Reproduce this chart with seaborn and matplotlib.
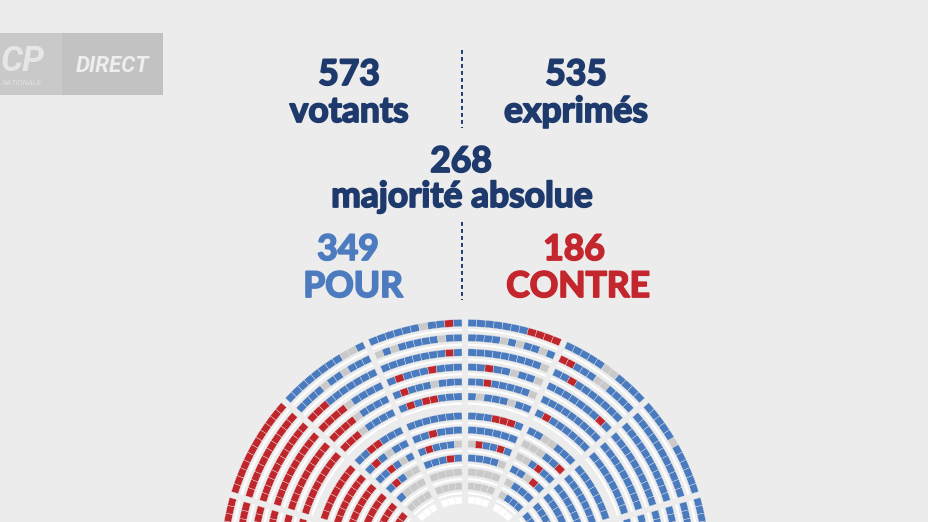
import matplotlib
matplotlib.use("Agg")
import numpy as np
import matplotlib.pyplot as plt
import matplotlib.patheffects as pe
from matplotlib.patches import Wedge, Rectangle
import seaborn as sns

# ---------------- data ----------------
votants = 573
exprimes = 535
majorite = 268
pour = 349
contre = 186
label_votants = "votants"
label_exprimes = "exprimés"
label_majorite = "majorité absolue"
label_pour = "POUR"
label_contre = "CONTRE"

# seat rows (radius in px from hemicycle centre), outer band then inner band
outer_rows = [241.0, 226.3, 211.6, 196.9, 182.2, 167.5]
inner_rows = [148.0, 134.0, 120.0, 106.0, 92.0, 78.0, 64.0]

# sectors: (angle_low, angle_high) in degrees, first row index
sector_bounds = {
    "L1": (163.5, 180.0), "L2": (138.0, 163.5), "L3": (114.0, 138.0), "L4": (90.0, 114.0),
    "R4": (66.0, 90.0), "R3": (42.0, 66.0), "R2": (16.5, 42.0), "R1": (0.0, 16.5),
    "IL2": (114.0, 138.0), "IL1": (90.0, 114.0), "IR1": (66.0, 90.0), "IR2": (42.0, 66.0),
}
sector_first_row = {"L1": 0, "L2": 0, "L3": 0, "L4": 0, "R4": 0, "R3": 0, "R2": 0, "R1": 0,
                    "IL2": 6, "IL1": 6, "IR1": 6, "IR2": 6}

# seat votes per row (outer -> inner), read left -> right on screen
# B = pour, R = contre, G = non-votant / abstention, W = banc du gouvernement
seats_L1 = ["RRRRRRRR", "RRRRRRR", "RRRRRRR", "RRRRRR", "RRRRRR", "RRRRR",
            "RRRRR", "RRRR", "RRRR", "RRR", "RRR", "RRR"]
seats_L2 = ["RRRRRRRRRRRR", "RRRRRRRRRRR", "RRRRRRRRRRR", "RRRRRRRRRR", "RRRRRRRRR", "RRRRRRRR",
            "RRRRRRR", "RRRRRRR", "RRRRRR", "RRRRR", "RRRRR", "RRRR"]
seats_L3 = ["BBBBBBBBGGB", "BBBBGBBGBBB", "RRRBBBBBBB", "RRRRGBBBB", "RRRRGBBBB", "RRRGBBBB"]
seats_L4 = ["BBBBBBGBBRB", "GBGBBBBBGBB", "BBBBBBBBRB", "BRBBBRBBB", "BRBBBGBBB", "BRBRRBBB"]
seats_R4 = ["BBBBBBBRRRR", "BBBBGBGBBGB", "BBBBBBBBBG", "BBRBBGBBG", "BBRBBBBBG", "BGBBBGBB"]
seats_R3 = ["BBBBBGGBBBB", "RRBBBGGBBBB", "BBRBBBBBBB", "BBBBBBBRB", "BBBBBBBBB", "BRBBBBBB"]
seats_R2 = ["BBBBBGBBBBBB", "BBBBBBBBBBB", "BBBBBBBBBBB", "BBBBBBBBBB", "BBBBBBBBB", "BBBBBBBB",
            "BBBBBBB", "BBBBBBB", "BBBBBB", "BBBBB", "BBBBB", "BBBB"]
seats_R1 = ["BBBBBBBB", "BBBBBBB", "BBBBBBB", "BBBBBB", "BBBBBB", "BBBBB",
            "BBBBB", "BBBB", "BBBB", "BBB", "BBB", "BBB"]
seats_IL2 = ["BBRRBBB", "BRBGBB", "BBRBGB", "BRBGG", "BGGG", "GGGG", "WWW"]
seats_IL1 = ["BBBBBBB", "BBRBBB", "BRBBBG", "BBBRB", "GGGG", "GGGG", "WWW"]
seats_IR1 = ["BBBRRRB", "BBBBBB", "GRBBRB", "BBBBG", "GGGG", "GGGG", "WWW"]
seats_IR2 = ["BBGGBBB", "GGGBBR", "GGBRBB", "BBGRB", "GBBB", "GBBB", "WWW"]

sector_seats = {"L1": seats_L1, "L2": seats_L2, "L3": seats_L3, "L4": seats_L4,
                "R4": seats_R4, "R3": seats_R3, "R2": seats_R2, "R1": seats_R1,
                "IL2": seats_IL2, "IL1": seats_IL1, "IR1": seats_IR1, "IR2": seats_IR2}

# ---------------- style ----------------
BG = "#ececec"
NAVY = "#1e3a6d"
BLUE_TXT = "#4d7bc0"
RED_TXT = "#c3262d"
seat_colors = {"B": "#4a7bbf", "R": "#c0272d", "G": "#c9c9c9", "W": "#ffffff"}

sns.set_theme(style="white")
plt.rcParams["font.family"] = ["Lato", "DejaVu Sans"]

W, H = 929, 522
CX, CY = 465, 564  # hemicycle centre in pixel coords

fig = plt.figure(figsize=(W / 100, H / 100), dpi=100, facecolor=BG)
ax = fig.add_axes([0, 0, 1, 1])
ax.set_facecolor(BG)
ax.set_xlim(-CX, W - CX)
ax.set_ylim(CY - H, CY)
ax.axis("off")


def P(px, py):
    return px - CX, CY - py


# ---------------- hemicycle ----------------
radii = outer_rows + inner_rows
SEAT_T = 7.2
HALF_AISLE = 3.0
for name, rows in sector_seats.items():
    a_lo, a_hi = sector_bounds[name]
    first = sector_first_row[name]
    for i, pattern in enumerate(rows):
        rc = radii[first + i]
        d = np.degrees(HALF_AISLE / rc)
        lo, hi = a_lo + d, a_hi - d
        n = len(pattern)
        w = (hi - lo) / n
        if pattern[0] != "W":
            ax.add_patch(Wedge((0, 0), rc - 6.0, lo, hi, width=2.1,
                               facecolor="white", edgecolor="none"))
        for k, c in enumerate(pattern):
            t2 = hi - k * w
            t1 = t2 - w
            ax.add_patch(Wedge((0, 0), rc + SEAT_T / 2, t1, t2, width=SEAT_T,
                               facecolor=seat_colors[c], edgecolor=BG, linewidth=0.25))

# ---------------- texts ----------------
def txt(px, py, s, color, size):
    x, y = P(px, py)
    ax.text(x, y, s, color=color, fontsize=size, fontweight="bold",
            ha="center", va="baseline",
            path_effects=[pe.withStroke(linewidth=1.3, foreground=color)])

FS = 25.5
txt(349, 85, str(votants), NAVY, FS)
txt(349, 122, label_votants, NAVY, FS)
txt(576, 85, str(exprimes), NAVY, FS)
txt(576, 122, label_exprimes, NAVY, FS)
txt(461, 172, str(majorite), NAVY, FS)
txt(462, 207, label_majorite, NAVY, FS)
txt(348, 260, str(pour), BLUE_TXT, FS)
txt(353, 297, label_pour, BLUE_TXT, FS)
txt(574, 260, str(contre), RED_TXT, FS)
txt(578, 297, label_contre, RED_TXT, FS)

# dotted dividers
for y0, y1 in [(50, 128), (222, 300)]:
    xa, ya = P(462, y0)
    _, yb = P(462, y1)
    ax.plot([xa, xa], [ya, yb], color=NAVY, lw=1.4, linestyle=(0, (2, 1.6)))

# ---------------- channel logo ----------------
x0, y0 = P(0, 95)
ax.add_patch(Rectangle((x0, y0), 62, 62, facecolor="#c9c9c9", edgecolor="none"))
x1, _ = P(62, 95)
ax.add_patch(Rectangle((x1, y0), 101, 62, facecolor="#c2c2c2", edgecolor="none"))
lx, ly = P(1, 71)
ax.text(lx, ly, "CP", color="#e6e6e6", fontsize=25, fontweight="bold", style="italic",
        family=["Roboto", "DejaVu Sans"], ha="left", va="baseline")
lx, ly = P(2, 85)
ax.text(lx, ly, "NATIONALE", color="#e0e0e0", fontsize=5.5, style="italic",
        family=["Roboto", "DejaVu Sans"], ha="left", va="baseline")
dx, dy = P(113, 72)
ax.text(dx, dy, "DIRECT", color="#eeeeee", fontsize=16, fontweight="bold", style="italic",
        family=["Roboto", "DejaVu Sans"], ha="center", va="baseline")

fig.savefig("out.png", dpi=100, facecolor=BG)
